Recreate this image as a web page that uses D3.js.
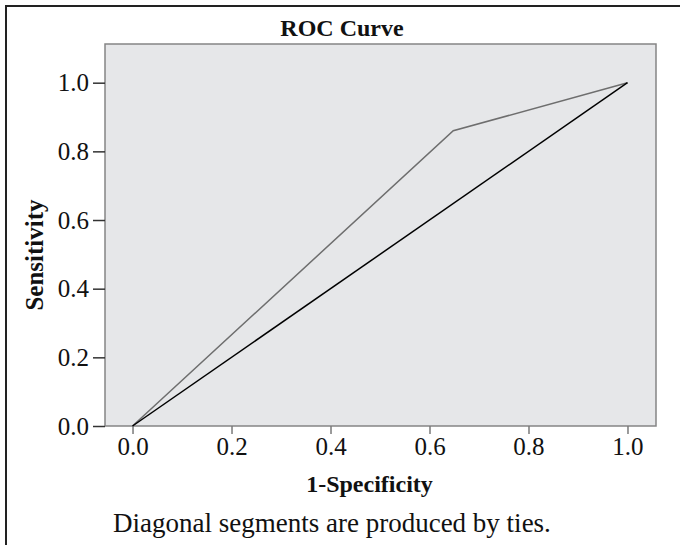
<!DOCTYPE html>
<html>
<head>
<meta charset="utf-8">
<script src="https://cdn.jsdelivr.net/npm/d3@7"></script>
<style>
  html, body { margin: 0; padding: 0; background: #fff; }
  svg { display: block; }
  text { font-family: "Liberation Serif", "Times New Roman", serif; fill: #111; }
</style>
</head>
<body>
<svg id="chart" width="680" height="545"></svg>
<script>
// ---- data ----
const rocX = [0, 0.648, 1];
const rocY = [0, 0.86, 1];
const refX = [0, 1];
const refY = [0, 1];
const xTicks = [0, 0.2, 0.4, 0.6, 0.8, 1.0];
const yTicks = [0, 0.2, 0.4, 0.6, 0.8, 1.0];
const titleText = "ROC Curve";
const xLabel = "1-Specificity";
const yLabel = "Sensitivity";
const footnote = "Diagonal segments are produced by ties.";

const svg = d3.select("#chart");
const W = 680, H = 545;
const plot = { left: 105, right: 656, top: 44, bottom: 426 };

const x = d3.scaleLinear().domain([-0.0556, 1.0576]).range([plot.left, plot.right]);
const y = d3.scaleLinear().domain([0, 1.1127]).range([plot.bottom, plot.top]);

// outer frame (top and left edges)
svg.append("path")
  .attr("d", `M6,${H} L6,6 L${W},6`)
  .attr("fill", "none").attr("stroke", "#222").attr("stroke-width", 2);

// plot background
svg.append("rect")
  .attr("x", plot.left).attr("y", plot.top)
  .attr("width", plot.right - plot.left).attr("height", plot.bottom - plot.top)
  .attr("fill", "#e6e7e9").attr("stroke", "#858585").attr("stroke-width", 1.5);

// axes
const xAxis = d3.axisBottom(x).tickValues(xTicks).tickFormat(d3.format(".1f")).tickSize(8).tickPadding(3);
const gx = svg.append("g").attr("transform", `translate(0,${plot.bottom})`).call(xAxis);
gx.select(".domain").remove();
gx.selectAll("line").attr("stroke", "#7a7a7a").attr("stroke-width", 1.5);
gx.selectAll("text").attr("font-size", 25).attr("font-family", "Liberation Serif").attr("fill", "#111");

const yAxis = d3.axisLeft(y).tickValues(yTicks).tickFormat(d3.format(".1f")).tickSize(12).tickPadding(4);
const gy = svg.append("g").attr("transform", `translate(${plot.left},0)`).call(yAxis);
gy.select(".domain").remove();
gy.selectAll("line").attr("stroke", "#333").attr("stroke-width", 1.5);
gy.selectAll("text").attr("font-size", 25).attr("font-family", "Liberation Serif").attr("fill", "#111");

// lines
const line = d3.line().x(d => x(d[0])).y(d => y(d[1]));
svg.append("path")
  .datum(rocX.map((v, i) => [v, rocY[i]]))
  .attr("d", line).attr("fill", "none").attr("stroke", "#6e6e6e").attr("stroke-width", 1.5);
svg.append("path")
  .datum(refX.map((v, i) => [v, refY[i]]))
  .attr("d", line).attr("fill", "none").attr("stroke", "#000").attr("stroke-width", 1.5);

// texts
svg.append("text").attr("x", 342).attr("y", 36).attr("text-anchor", "middle")
  .attr("font-size", 24).attr("font-weight", "bold").text(titleText);
svg.append("text").attr("x", 369.5).attr("y", 492).attr("text-anchor", "middle")
  .attr("font-size", 24).attr("font-weight", "bold").text(xLabel);
svg.append("text").attr("transform", "translate(43,255) rotate(-90)").attr("text-anchor", "middle")
  .attr("font-size", 25).attr("font-weight", "bold").text(yLabel);
svg.append("text").attr("x", 113).attr("y", 532).attr("text-anchor", "start")
  .attr("font-size", 27).text(footnote);
</script>
</body>
</html>
